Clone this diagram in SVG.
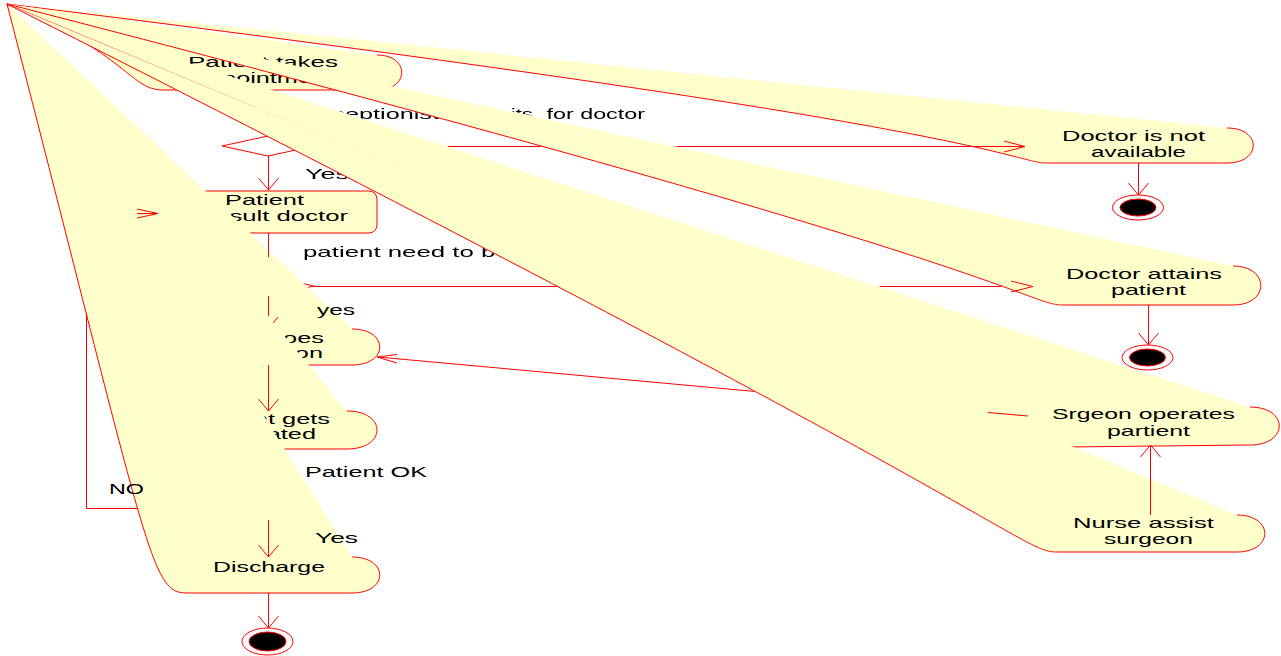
<svg xmlns="http://www.w3.org/2000/svg" width="1281" height="656" viewBox="0 0 1281 656">
<style>
.wedge{fill:#FFFFCC;stroke:#FF0000;stroke-width:1}
.box{fill:#FFFFCC;stroke:#FF0000;stroke-width:1}
.dec{fill:#FFFFFF;stroke:#FF0000;stroke-width:1}
.conn{fill:none;stroke:#FF0000;stroke-width:1}
.outer{fill:#FFFFFF;stroke:#FF0000;stroke-width:1}
.inner{fill:#000000;stroke:#FF0000;stroke-width:1}
.t{font-family:"Liberation Sans",Arial,sans-serif;font-size:15px;fill:#000000}
</style>
<defs>
<mask id="under" maskUnits="userSpaceOnUse" x="0" y="0" width="1281" height="656">
<rect x="0" y="0" width="1281" height="656" fill="#FFFFFF"/>
<path d="M7,4 C1026,266 1026,305 1063,305 L1233,305 C1270,305 1270,266 1233,266 Z" fill="#000000" stroke="#000000"/>
<path d="M7,4 L1067,447 L1250,445 C1289,445 1289,407 1250,407 Z" fill="#000000" stroke="#000000"/>
<path d="M7,4 C1020,515 1020,552 1057,552 L1237,552 C1274,552 1274,515 1237,515 Z" fill="#000000" stroke="#000000"/>
</mask>
</defs>
<rect x="0" y="0" width="1281" height="656" fill="#FFFFFF"/>

<g id="node-doctor-not-available">
<path class="wedge" d="M7,4 C1012,128 1012,163 1047,163 L1227,163 C1262,163 1262,128 1227,128"/>
<text class="t" x="1062" y="141" textLength="143" lengthAdjust="spacingAndGlyphs">Doctor is not</text>
<text class="t" x="1091" y="157" textLength="95" lengthAdjust="spacingAndGlyphs">available</text>
</g>

<g id="node-patient-takes-appointment">
<path class="wedge" d="M7,4 C130,55 130,90 163,90 L377,90 C410,90 410,55 377,55"/>
<text class="t" x="188" y="67" textLength="150" lengthAdjust="spacingAndGlyphs">Patient takes</text>
<text class="t" x="194" y="83" textLength="139" lengthAdjust="spacingAndGlyphs">appointment</text>
</g>

<g id="node-decision-doctor">
<polygon class="dec" points="222,146 268,136 314,146 268,156"/>
</g>

<g id="node-patient-consult-doctor">
<rect class="box" x="158" y="191" width="219" height="42" rx="8" ry="8"/>
<text class="t" x="225" y="205" textLength="79" lengthAdjust="spacingAndGlyphs">Patient</text>
<text class="t" x="188" y="221" textLength="160" lengthAdjust="spacingAndGlyphs">consult doctor</text>
</g>

<g id="node-decision-operation">
<polygon class="dec" points="222,286 268,276 314,286 268,296"/>
</g>

<g id="node-decision-patient-ok">
<polygon class="dec" points="222,509 268,499 314,509 268,520"/>
</g>

<g id="node-patient-goes-for-operation">
<path class="wedge" d="M7,4 C150,329 150,365 187,365 L352,365 C389,365 389,329 352,329"/>
<text class="t" x="183" y="343" textLength="141" lengthAdjust="spacingAndGlyphs">Patient goes</text>
<text class="t" x="181" y="358" textLength="142" lengthAdjust="spacingAndGlyphs">for operation</text>
</g>

<g id="node-patient-gets-operated">
<path class="wedge" d="M7,4 C150,411 150,449 190,449 L347,449 C387,449 387,411 347,411"/>
<text class="t" x="196" y="424" textLength="134" lengthAdjust="spacingAndGlyphs">Patient gets</text>
<text class="t" x="216" y="439" textLength="100" lengthAdjust="spacingAndGlyphs">operated</text>
</g>

<g id="node-discharge">
<path class="wedge" d="M7,4 C150,557 150,593 187,593 L352,593 C389,593 389,557 352,557"/>
<text class="t" x="213" y="572" textLength="112" lengthAdjust="spacingAndGlyphs">Discharge</text>
</g>

<g id="node-doctor-attains-patient">
<path class="wedge" d="M7,4 C1026,266 1026,305 1063,305 L1233,305 C1270,305 1270,266 1233,266"/>
<text class="t" x="1066" y="279" textLength="156" lengthAdjust="spacingAndGlyphs">Doctor attains</text>
<text class="t" x="1111" y="295" textLength="75" lengthAdjust="spacingAndGlyphs">patient</text>
</g>

<g id="node-srgeon-operates-partient">
<path class="wedge" d="M7,4 L1067,447 L1250,445 C1289,445 1289,407 1250,407"/>
<text class="t" x="1052" y="419" textLength="183" lengthAdjust="spacingAndGlyphs">Srgeon operates</text>
<text class="t" x="1107" y="436" textLength="83" lengthAdjust="spacingAndGlyphs">partient</text>
</g>

<g id="node-nurse-assist-surgeon">
<path class="wedge" d="M7,4 C1020,515 1020,552 1057,552 L1237,552 C1274,552 1274,515 1237,515"/>
<text class="t" x="1073" y="528" textLength="141" lengthAdjust="spacingAndGlyphs">Nurse assist</text>
<text class="t" x="1104" y="544" textLength="89" lengthAdjust="spacingAndGlyphs">surgeon</text>
</g>

<g id="node-end-1">
<ellipse class="outer" cx="1138" cy="207.5" rx="25.5" ry="12.5"/>
<ellipse class="inner" cx="1138" cy="207.5" rx="18" ry="8.5"/>
</g>
<g id="node-end-2">
<ellipse class="outer" cx="1147.5" cy="357.5" rx="25.5" ry="12.5"/>
<ellipse class="inner" cx="1147.5" cy="357.5" rx="18" ry="8.5"/>
</g>
<g id="node-end-3">
<ellipse class="outer" cx="267.5" cy="641.5" rx="25.5" ry="13.5"/>
<ellipse class="inner" cx="267.5" cy="641.5" rx="18.5" ry="9.5"/>
</g>

<g id="connectors">
<g mask="url(#under)">
<path class="conn" d="M314,146.5 L1025,146.5"/>
<text class="t" y="119"><tspan x="300" textLength="139" lengthAdjust="spacingAndGlyphs">Receptionist</tspan><tspan x="476" textLength="57" lengthAdjust="spacingAndGlyphs"> waits</tspan><tspan x="540" textLength="105" lengthAdjust="spacingAndGlyphs"> for doctor</tspan></text>
<path class="conn" d="M268.5,156 L268.5,190 M258.5,178 L268.5,190 L278.5,178"/>
<text class="t" x="305" y="179" textLength="44" lengthAdjust="spacingAndGlyphs">Yes</text>
<path class="conn" d="M314,286.5 L1033,286.5"/>
<text class="t" x="303" y="257" textLength="316" lengthAdjust="spacingAndGlyphs">patient need to be operated</text>
<path class="conn" d="M1045,418 L378,357"/>
</g>
<path class="conn" d="M988,412.5 L1028,416"/>
<path class="conn" d="M1004,141 L1025,146.5 L1004,152"/>
<path class="conn" d="M1011,281 L1033,286.5 L1011,292"/>
<path class="conn" d="M397,354.5 L377,357 L397,363"/>
<path class="conn" d="M268.5,233 L268.5,257"/>
<path class="conn" d="M268.5,296 L268.5,316 M278,317 L273,323"/>
<text class="t" x="317" y="315" textLength="38" lengthAdjust="spacingAndGlyphs">yes</text>
<path class="conn" d="M268.5,365 L268.5,411 M258.5,399 L268.5,411 L278.5,399"/>
<text class="t" x="305" y="477" textLength="122" lengthAdjust="spacingAndGlyphs">Patient OK</text>
<path class="conn" d="M86.5,313 L86.5,508.5 L137,508.5"/>
<path class="conn" d="M137,213.5 L158,213.5 M137,209 L158,213.5 L137,218"/>
<text class="t" x="109" y="494" textLength="35" lengthAdjust="spacingAndGlyphs">NO</text>
<path class="conn" d="M268.5,520 L268.5,557 M258.5,545 L268.5,557 L278.5,545"/>
<text class="t" x="315" y="543" textLength="43" lengthAdjust="spacingAndGlyphs">Yes</text>
<path class="conn" d="M268.5,593 L268.5,628 M258.5,616 L268.5,628 L278.5,616"/>
<path class="conn" d="M1138.5,163 L1138.5,195 M1128.5,183 L1138.5,195 L1148.5,183"/>
<path class="conn" d="M1148.5,305 L1148.5,345 M1138.5,333 L1148.5,345 L1158.5,333"/>
<path class="conn" d="M1150.5,515 L1150.5,445 M1140.5,457 L1150.5,445 L1160.5,457"/>
</g>
</svg>
